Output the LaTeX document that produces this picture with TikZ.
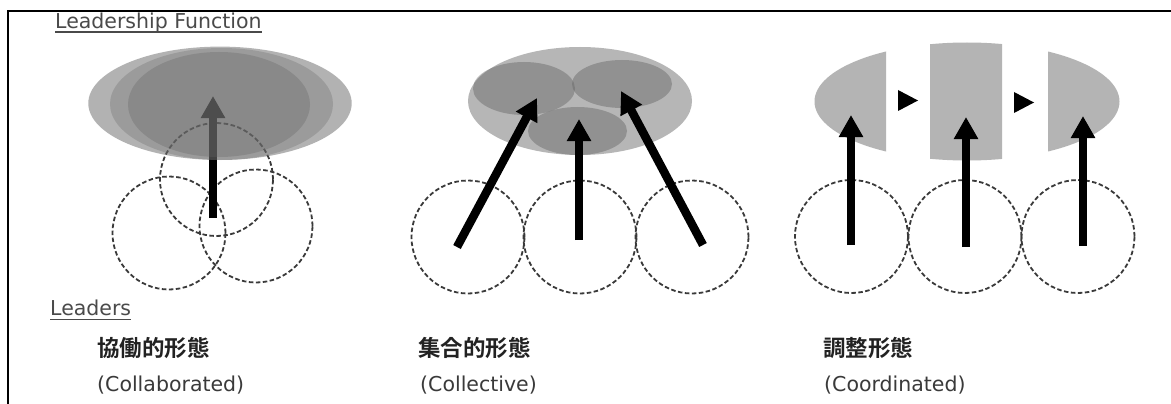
\documentclass[tikz,border=0pt]{standalone}
\usepackage{fontspec}
\newfontfamily\jp[BoldFont={Noto Sans CJK JP Bold}]{Noto Sans CJK JP}
\newfontfamily\lat{DejaVu Sans}
\usetikzlibrary{arrows.meta}
\definecolor{dashc}{HTML}{3A3A3A}
\definecolor{ellc}{HTML}{666666}
\definecolor{bigfill}{HTML}{B6B6B6}
\definecolor{stripfill}{HTML}{B4B4B4}
\definecolor{headc}{HTML}{4A4A4A}
\definecolor{labc}{HTML}{222222}
\definecolor{subc}{HTML}{3A3A3A}
\begin{document}
\begin{tikzpicture}[x=1pt,y=-1pt,
  leader/.style={circle, draw=dashc, dash pattern=on 4.5pt off 2.5pt, line width=1.8pt, minimum size=113pt, inner sep=0pt},
  lead/.style={line width=8.5pt, -{Triangle[length=22pt,width=23pt]}},
  head/.style={font=\lat\fontsize{20.5}{24}\selectfont, text=headc, inner sep=0pt, anchor=base west},
  jlabel/.style={font=\jp\bfseries\fontsize{22.5}{26}\selectfont, text=labc, inner sep=0pt, anchor=west},
  elabel/.style={font=\lat\fontsize{20.5}{24}\selectfont, text=subc, inner sep=0pt, anchor=base west},
  uline/.style={line width=1.3pt, draw=headc}]
\useasboundingbox (0,0) rectangle (1171,404);
\fill[white] (0,0) rectangle (1171,404);
\draw[line width=2.5pt] (1171,11) -- (8,11) -- (8,404);

% headers
\node[head] (lf) at (55,28.3) {Leadership Function};
\draw[uline] ([yshift=-3.8pt]lf.base west) -- ([yshift=-3.8pt]lf.base east);
\node[head] (ld) at (50,315.7) {Leaders};
\draw[uline] ([yshift=-3.5pt]ld.base west) -- ([yshift=-3.5pt]ld.base east);

% ---------- panel 1 : collaborated ----------
\node[leader] (a1) at (216.5,179.5) {};
\node[leader] (a2) at (169,233) {};
\node[leader] (a3) at (256,226) {};
\coordinate (a0) at (213,218);
\coordinate (aT) at (213,96);
\draw[lead] (a0) -- (aT);
\fill[ellc, fill opacity=0.5] (220,103.3) ellipse [x radius=131.7pt, y radius=56.7pt];
\fill[ellc, fill opacity=0.3] (221.5,104) ellipse [x radius=111.5pt, y radius=56pt];
\fill[ellc, fill opacity=0.33] (219,104.5) ellipse [x radius=91pt, y radius=52.5pt];

% ---------- panel 2 : collective ----------
\fill[bigfill] (580,101) ellipse [x radius=112pt, y radius=54pt];
\fill[ellc, fill opacity=0.45] (524,88.5) ellipse [x radius=51pt, y radius=26.5pt];
\fill[ellc, fill opacity=0.45] (622,84) ellipse [x radius=50pt, y radius=24pt];
\fill[ellc, fill opacity=0.45] (577.5,131) ellipse [x radius=49.5pt, y radius=24pt];
\node[leader] (b1) at (468,237) {};
\node[leader] (b2) at (580,237) {};
\node[leader] (b3) at (692,237) {};
\coordinate (b1s) at (457,247);
\coordinate (b1t) at (537,98);
\coordinate (b2s) at (579,240);
\coordinate (b2t) at (579,119);
\coordinate (b3s) at (703,245);
\coordinate (b3t) at (621,91);
\draw[lead] (b1s) -- (b1t);
\draw[lead] (b2s) -- (b2t);
\draw[lead] (b3s) -- (b3t);

% ---------- panel 3 : coordinated ----------
\begin{scope}
\clip (800,30) rectangle (886,170) (930,30) rectangle (1002,170) (1048,30) rectangle (1130,170);
\fill[stripfill] (967,101.5) ellipse [x radius=152.5pt, y radius=59pt];
\end{scope}
\fill (898,90) -- (918,100.5) -- (898,111) -- cycle;
\fill (1014,92) -- (1034,102.5) -- (1014,113) -- cycle;
\node[leader] (c1) at (851.5,236.5) {};
\node[leader] (c2) at (965,236.5) {};
\node[leader] (c3) at (1078,236.5) {};
\coordinate (c1s) at (851,245);
\coordinate (c1t) at (851,115);
\coordinate (c2s) at (966,247);
\coordinate (c2t) at (966,117);
\coordinate (c3s) at (1083,246);
\coordinate (c3t) at (1083,116);
\draw[lead] (c1s) -- (c1t);
\draw[lead] (c2s) -- (c2t);
\draw[lead] (c3s) -- (c3t);

% labels
\node[jlabel] (j1) at (97,347.5) {協働的形態};
\node[elabel] (e1) at (97,391.7) {(Collaborated)};
\node[jlabel] (j2) at (418,347.5) {集合的形態};
\node[elabel] (e2) at (420,391.7) {(Collective)};
\node[jlabel] (j3) at (823,347.5) {調整形態};
\node[elabel] (e3) at (824,391.7) {(Coordinated)};
\end{tikzpicture}
\end{document}
